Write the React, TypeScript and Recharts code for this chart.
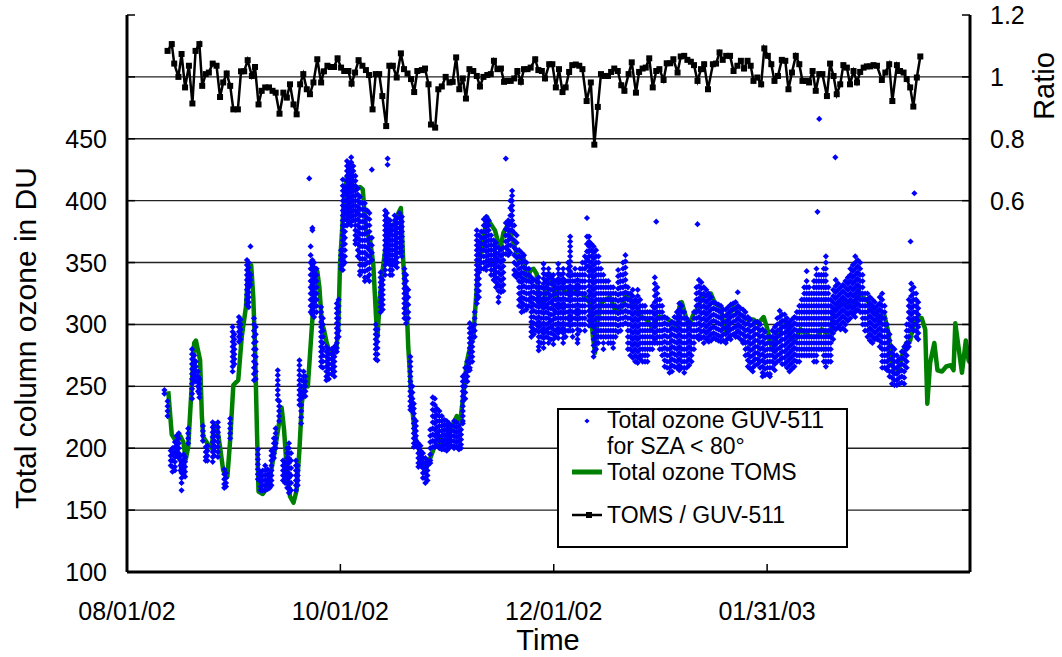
import React from 'react';
import { ComposedChart, Line, Scatter, XAxis, YAxis, ReferenceLine } from 'recharts';

const FONT = '"Liberation Sans", Arial, sans-serif';

// x axis: days since 08/01/02
const xTickDays = [0, 61, 122, 183];
const xTickLabels = ['08/01/02', '10/01/02', '12/01/02', '01/31/03'];
const leftTicks = [100, 150, 200, 250, 300, 350, 400, 450, 500, 550];
const rightTicks = [-0.6, -0.4, -0.2, 0, 0.2, 0.4, 0.6, 0.8, 1, 1.2];
const gridValues = [150, 200, 250, 300, 350, 400, 450, 500];

// TOMS total ozone [day, DU]
const tomsSeries: [number, number][] = [
  [11.8,246],[12.8,211],[13.7,207],[15.2,210],[16.1,205],[16.8,191],[17.5,201],[19.2,285],[19.7,287],[20.9,271],
  [21.4,226],[21.8,209],[23.2,203],[24.2,200],[24.9,220],[25.6,220],[26.6,201],[27.5,182],[28.7,177],[29.5,207],
  [30.4,251],[31.8,255],[32.8,290],[34.0,314],[34.7,345],[35.5,348],[36.1,322],[36.6,282],[37.1,220],[37.6,165],
  [38.8,163],[39.5,166],[40.9,177],[42.3,199],[43.3,217],[44.2,233],[44.9,215],[45.7,182],[46.6,161],[47.6,156],
  [48.5,166],[49.3,199],[50.0,237],[50.9,252],[51.7,250],[52.8,296],[53.8,336],[54.4,343],[55.0,330],[55.7,301],
  [56.3,296],[57.1,285],[58.0,277],[59.0,275],[59.8,279],[60.4,296],[60.9,349],[61.9,395],[62.8,419],[63.6,423],
  [64.7,410],[65.7,409],[66.6,411],[67.4,409],[68.3,376],[69.5,368],[70.4,349],[71.2,306],[71.6,290],[72.3,322],
  [73.3,349],[74.2,368],[75.7,379],[76.6,382],[77.6,390],[78.3,394],[79.0,349],[80.0,312],[80.4,282],[81.4,236],
  [82.4,209],[83.3,201],[84.3,191],[85.2,182],[86.2,188],[87.6,199],[88.6,204],[89.3,209],[90.3,200],[91.4,209],
  [92.4,215],[93.3,220],[94.3,226],[95.2,220],[96.2,244],[97.1,269],[98.1,282],[99.0,290],[99.8,322],[100.5,349],
  [101.7,366],[102.9,387],[103.8,382],[105.2,376],[106.7,360],[107.6,374],[108.6,379],[109.5,374],[110.5,366],[111.9,352],
  [113.3,355],[114.3,336],[115.4,344],[116.2,345],[117.1,341],[117.9,317],[118.9,314],[120.0,331],[120.8,341],[121.4,339],
  [122.4,322],[123.3,328],[124.3,330],[125.7,325],[127.2,330],[128.6,325],[130.0,325],[131.5,320],[132.4,317],[133.2,290],
  [133.8,277],[134.5,301],[135.3,317],[136.7,320],[138.1,322],[139.5,312],[141.0,312],[142.4,322],[143.3,325],[144.3,317],
  [145.8,314],[147.2,306],[148.6,304],[150.0,298],[151.9,306],[153.4,306],[154.8,304],[156.2,301],[157.2,296],[157.9,314],
  [158.6,318],[159.5,309],[160.5,298],[161.9,308],[162.9,312],[164.3,322],[165.8,324],[166.9,325],[168.1,317],[169.6,314],
  [170.5,301],[171.5,293],[172.4,309],[173.4,314],[174.8,309],[176.2,306],[177.7,304],[179.1,304],[180.5,301],[182.0,306],
  [182.9,298],[183.9,287],[184.6,279],[185.8,290],[187.2,298],[188.2,304],[189.6,290],[191.0,287],[192.5,296],[193.9,293],
  [195.3,290],[197.2,290],[198.6,296],[200.1,293],[201.0,290],[202.0,312],[203.4,314],[204.8,320],[206.3,317],[207.7,312],
  [209.1,328],[210.1,322],[211.5,320],[212.9,314],[214.2,310],[215.1,302],[216.3,310],[217.7,293],[218.7,269],[219.6,261],
  [220.6,263],[221.5,274],[222.8,285],[223.9,287],[224.9,301],[226.0,306],[227.2,305],[228.2,296],[228.8,236],[229.6,269],
  [230.8,285],[231.7,263],[233.0,262],[234.2,266],[235.5,267],[236.3,263],[236.8,301],[237.7,282],[238.7,261],[239.8,287],
  [240.6,271],[241.0,269]
];

// GUV-511 measurements for SZA < 80°, grouped by day: [day, DU values]
const guvClusters: [number, number[]][] = [
  [10.7,[247,244]],[11.6,[238,234,230,226]],[12.5,[198,194,190,186]],[13.0,[200,195,190,185,181]],
  [13.7,[205,201,197,193,189,185,182]],[14.2,[210,206,202,198,194]],[14.8,[212,208,204,200,196,192]],
  [15.3,[194,190,186,182]],[15.6,[188,184,180,176,172,166]],[16.2,[195,191,187,183,179]],[16.6,[193,189,185,181,177]],
  [17.5,[216,212,208,204]],[18.6,[280,276,272,268,264,260,256,252,248,244,240]],[19.2,[275,271,267,263,259,255]],
  [19.7,[270,266,262,258,254]],[20.3,[262,258,254,250,246]],[20.7,[256,252,248,244,241]],[21.7,[218,214,210,206]],
  [22.5,[201,197,193,190]],[23.0,[202,198,194,190]],[24.5,[221,217,213,209,205,201,197,193,189]],
  [25.0,[218,214,210,206,202,198,194]],[26.0,[221,217,213,209,205,201,197,193]],[27.8,[183,179,175,171,168]],
  [28.3,[180,176,172,169]],[29.5,[224,220,216,212,208]],[30.2,[298,294,290,286,282,278,274,270,266,262]],
  [30.7,[292,288,284,280,276,272,268]],[32.0,[306,302,298,294,290,286]],[32.5,[304,300,296,292,288]],
  [34.3,[352,348,344,340,336,332,328,324,320,316]],[34.8,[350,346,342,338,334,330,326,322,318,314]],
  [35.3,[363,340,336,332]],[36.3,[305,300,295,290,285,280,275,270,265,260,255]],[36.8,[298,292,286,280,274,268,262,256]],
  [37.4,[199,195,191,187,183,179,175]],[38.2,[181,177,173,169,166]],[38.8,[182,178,174,170,166]],
  [39.5,[186,182,178,174,170,166]],[40.2,[183,179,175,171,167]],[40.8,[180,176,172,168]],
  [41.3,[198,194,190,186,182,178,174,170]],[42.0,[208,204,200,196,192]],[42.5,[216,212,208,204,200]],
  [43.1,[263,259,255,251,247,243,239]],[43.5,[238,234,230,226,222]],[44.6,[190,186,182,178,174]],
  [45.2,[188,184,180,176,172]],[45.8,[200,196,192,188,184,180,176,172,168]],
  [46.3,[204,200,196,192,188,184,180,176,172,168,164]],[46.9,[196,190,184,178,172,166]],
  [48.3,[190,186,182,178,174,170,166]],[48.8,[186,182,178,174,170]],[49.3,[271,267,263,259,255,251,247,243,239,235]],
  [49.8,[255,250,245,240,235,230,225,220]],[50.5,[262,258,254,250,246,242]],[51.0,[258,254,250,246,242]],
  [52.1,[418]],[52.5,[363,356,350,345,340,335,330,325,320,315,310]],
  [53.0,[378,376,352,348,344,340,336,332,328,324,320,316,312,308]],
  [53.5,[350,346,342,338,334,330,326,322,318,314,310,306]],[54.2,[345,340,335,330,325,320,315,310]],
  [55.5,[314,310,306,302,298,294,290,286,282,278,274,270,266]],[56.0,[305,300,295,290,285,280,275,270,265]],
  [57.0,[282,278,274,270,266,262,258,255]],[57.7,[280,276,272,268,264,260,256]],[58.5,[280,276,272,268,264,260]],
  [59.3,[282,278,274,270,266,262,258]],[60.0,[317,313,309,305,301,297,293,289,285,281,278]],
  [60.5,[320,315,310,305,300,295,290]],[61.2,[360,356,352,348,345]],
  [61.7,[417,412,408,404,400,396,392,388,384,380,376,372,368,364,360,356,352,348,344]],
  [62.3,[410,405,400,395,390,385,380,375,370,365,360,355,350]],
  [62.9,[432,428,424,420,416,412,408,404,400,396,392,388,384,380]],
  [63.5,[430,426,422,418,414,410,406,402,398,394,390,386,382]],
  [64.1,[435,431,427,423,419,415,411,407,403,399,395,391,387,383,380]],
  [64.7,[428,424,420,416,412,408,404,400,396,392,388,384]],
  [65.3,[420,416,412,408,404,400,396,392,388,384,380,376,372,368,365]],
  [66.0,[410,405,400,395,390,385,380,375,370,365,360,355]],
  [66.6,[403,398,393,388,383,378,373,368,363,358,353,348,343,340]],
  [67.3,[398,393,388,383,378,373,368,363,358,353,348,343]],
  [68.0,[398,393,388,383,378,373,368,363,358,353,348,343,338,335]],
  [68.7,[392,386,380,374,368,362,356,350,344,338]],[69.3,[390,385,380,375,370,365,360,355,350,345,340,335]],
  [70.0,[425,370,364,358,352]],[71.1,[300,296,292,288,284,280,276,272]],[71.6,[296,291,286,281,276,271]],
  [72.5,[342,338,334,330,326,322,318,314,310]],[73.1,[336,332,328,324,320,316,312]],
  [73.8,[392,388,384,380,376,372,368,364,360,356,352,348,344,340]],[74.3,[390,386,382,378,374,370,366,362,358,354,350]],
  [74.5,[434,429]],[75.2,[384,380,376,372,368,364,360,356,352,348,344,340]],
  [75.8,[380,376,372,368,364,360,356,352,348,344,340]],[76.5,[388,384,380,376,372,368,364,360,356,352,348]],
  [77.2,[386,382,378,374,370,366,362,358,354,350,346]],[77.9,[390,386,382,378,374,370,366,362,358]],
  [78.6,[387,383,379,375,371,367,363,359,355]],[79.3,[345,341,337,333,329,325,321,317,313,309,305]],
  [79.8,[340,335,330,325,320,315,310,305,301]],[80.4,[328,322,316,310,305]],
  [81.0,[274,270,266,262,258,254,250,246,242,238,234,231]],[81.6,[250,245,240,235,230]],
  [82.0,[236,232,228,224,220,216,212,208,204,201]],[82.6,[222,218,214,210,206,202]],[83.3,[204,200,196,192,188,185]],
  [83.9,[202,198,194,190,186]],[84.6,[196,192,188,184,180,176]],[85.3,[192,188,184,180,176,172]],
  [85.9,[190,186,182,178,174]],[86.7,[215,210,205,200,195,190,188]],[87.4,[241,236,231,226,221,216,211,206,201]],
  [88.0,[240,235,230,225,220,215,210,205,201]],[88.6,[232,227,222,217,212,207,202]],
  [89.3,[230,226,222,218,214,210,206,202,200]],[90.0,[226,222,218,214,210,206,202,199]],
  [90.7,[223,219,215,211,207,203,199]],[91.4,[222,218,214,210,206,202,198]],[92.1,[220,216,212,208,204,200]],
  [92.8,[218,214,210,206,202]],[93.5,[222,218,214,210,206,202,200]],[94.2,[221,217,213,209,205,201]],
  [94.9,[218,214,210,206,202,199]],[95.5,[215,211,207,203,200]],[96.0,[258,254,250,246,242,238,234,230,226,222,220]],
  [96.7,[265,260,255,250,245,240]],[97.3,[270,266,262,258,254]],[98.0,[301,297,293,289,285,281,277,273,269,265,263]],
  [98.7,[298,294,290,286,282,278,274,270]],[99.4,[310,305,300,295,290]],
  [100.0,[376,372,368,364,360,356,352,348,344,340,336,332,328,324,320,317]],
  [100.6,[372,367,362,357,352,347,342,337,332,327,322]],[101.3,[375,370,365,360,355,350,345]],
  [102.0,[385,380,375,370,365,360,355,350,345]],[102.7,[387,383,379,375,371,367,363,359,355,351,347,344]],
  [103.4,[384,380,376,372,368,364,360,356,352,348]],[104.1,[372,368,364,360,356,352,348,344,340]],
  [104.8,[368,364,360,356,352,348,344,340,336]],[105.5,[366,362,358,354,350,346,342,338,334,330]],
  [106.2,[362,357,352,347,342,337,332,327,322,318]],[106.9,[360,355,350,345,340,335,330,326]],
  [107.6,[362,357,352,347,342,337,332,327]],[108.3,[434,382,377,372,367,362,357]],
  [109.0,[384,380,376,372,368,364,360,356]],[109.6,[400,394,388,382,376,370,364,358]],
  [110.1,[408,404,400,396,392,388,384,380,376]],[110.7,[380,374,368,362,356,350,344,340]],
  [111.4,[372,366,360,354,348,342,338]],[112.1,[360,355,350,345,340,335,330,325,320,315]],
  [112.8,[358,354,350,346,342,338,334,330,326,322,318,314,310]],[113.5,[356,351,346,341,336,331,326,321,316,311]],
  [114.2,[350,345,340,335,330,325,320,315,312]],[114.9,[345,340,335,330,325,320,315]],
  [115.6,[338,334,330,326,322,318,314,310,306,302,298,294,290]],[116.3,[336,331,326,321,316,311,306,301,296,292]],
  [117.0,[335,330,325,320,315,310,305,300,295]],
  [117.7,[338,334,330,326,322,318,314,310,306,302,298,294,290,286,282,279]],
  [118.4,[330,325,320,315,310,305,300,295,290,285]],
  [119.1,[349,345,341,337,333,329,325,321,317,313,309,305,301,297,293,289,285,281]],
  [119.8,[340,335,330,325,320,315,310,305,300,295,290]],
  [120.5,[345,341,337,333,329,325,321,317,313,309,305,301,297,293,289,285]],
  [121.2,[338,333,328,323,318,313,308,303,298,293,288]],
  [121.9,[340,336,332,328,324,320,316,312,308,304,300,296,292,288,284]],
  [122.6,[335,330,325,320,315,310,305,300,295,290]],
  [123.3,[349,345,341,337,333,329,325,321,317,313,309,305,301,297,293,289]],
  [124.0,[340,335,330,325,320,315,310,305,300,295]],
  [124.7,[345,341,337,333,329,325,321,317,313,309,305,301,297,293,289,285]],
  [125.4,[335,330,325,320,315,310,305,300,295,290]],[126.1,[350,345,340,335,330,325,320,315,310,305,300,295]],
  [126.7,[371,367,363,359,355,351,347,343,339,335,331,327,323,319,315,311,307,303,299,295]],
  [127.4,[340,335,330,325,320,315,310,305,300,295,290]],[128.1,[345,340,335,330,325,320,315,310,305,300]],
  [128.8,[340,336,332,328,324,320,316,312,308,304,300,296,292,288,285]],
  [129.5,[345,340,335,330,325,320,315,310,305,300,295]],[130.2,[350,345,340,335,330,325,320,315,310,305,300]],
  [130.9,[355,350,345,340,335,330,325,320,315,310,305,300,295]],[131.5,[386,371,365,359,353,347]],
  [132.1,[371,367,363,359,355,351,347,343,339,335,331,327,323,319,315,311,307,303,299]],
  [132.8,[365,360,355,350,345,340,335,330,325,320,315,310,305,300]],
  [133.4,[363,358,353,348,343,338,333,328,323,318,313,308,303,298,293,288,283,278,274]],
  [134.1,[360,355,350,345,340,335,330,325,320,315,310,305,300,295,290,285,280]],
  [134.8,[355,350,345,340,335,330,325,320,315,310,305,300,295,290,285]],
  [135.5,[345,340,335,330,325,320,315,310,305,300,295,290]],
  [136.2,[340,335,330,325,320,315,310,305,300,295,290,285,280]],
  [136.9,[335,330,325,320,315,310,305,300,295,290]],[137.6,[335,330,325,320,315,310,305,300,295,290,285]],
  [138.3,[330,325,320,315,310,305,300,295,290,285]],[139.0,[330,325,320,315,310,305,300,295,290,285,281]],
  [139.7,[325,320,315,310,305,300,295,290]],[140.4,[344,339,334,329,324,319,314,309,304,299,294]],
  [141.1,[340,335,330,325,320,315,310,305,300,295]],[141.8,[350,345,340,335,330,325,320,315,310,305,300]],
  [142.5,[356,351,346,341,336,331,326,321,316,311,306,301]],[143.2,[330,325,320,315,310,305,300,295,290,285,280]],
  [143.9,[325,320,315,310,305,300,295,290,285,280,275]],[144.6,[328,323,318,313,308,303,298,293,288,283,278,273]],
  [145.3,[320,315,310,305,300,295,290,285,280,275,270]],
  [146.0,[328,323,318,313,308,303,298,293,288,283,278,273,269]],
  [146.7,[320,315,310,305,300,295,290,285,280,275,272]],[147.4,[315,310,305,300,295,290,285,280,275,270]],
  [148.1,[315,310,305,300,295,290,285,280,275,270]],[148.8,[310,305,300,295,290,285,280,275,270]],
  [149.5,[310,305,300,295,290,285,280]],[150.2,[315,310,305,300,295,290,285,280]],
  [150.9,[338,333,328,323,318,313,308,303,298,293,288,285]],[151.3,[383]],
  [151.6,[330,325,320,315,310,305,300,295,290,285]],[152.3,[320,315,310,305,300,295,290,285,280]],
  [153.0,[315,310,305,300,295,290,285,280,275]],[153.7,[306,301,296,291,286,281,276,271,266]],
  [154.4,[305,300,295,290,285,280,275,270,265]],[155.1,[300,295,290,285,280,275,270,265,261]],
  [155.8,[302,297,292,287,282,277,272,267,262]],[156.5,[306,301,296,291,286,281,276,271,266]],
  [157.2,[310,305,300,295,290,285,280,275,270,265]],[157.9,[317,312,307,302,297,292,287,282,277,272,267,263]],
  [158.6,[315,310,305,300,295,290,285,280,275,270,265]],[159.3,[310,305,300,295,290,285,280,275,270,265,261]],
  [160.0,[305,300,295,290,285,280,275,270,265]],[160.7,[302,297,292,287,282,277,272,267]],
  [161.4,[300,295,290,285,280,275,270]],[162.1,[310,305,300,295,290,285,280]],
  [162.8,[330,325,320,315,310,305,300,295,290]],[163.1,[381]],[163.5,[336,331,326,321,316,311,306,301,296,291,288]],
  [164.2,[334,329,324,319,314,309,304,299,294,289]],[164.9,[330,325,320,315,310,305,300,295,290,285]],
  [165.6,[328,323,318,313,308,303,298,293,288]],[166.3,[325,320,315,310,305,300,295,290,286]],
  [167.0,[322,317,312,307,302,297,292,287]],[167.7,[318,313,308,303,298,293,289]],
  [168.4,[317,312,307,302,297,292,288]],[169.1,[316,311,306,301,296,291,287]],[169.8,[315,310,305,300,295,290,286]],
  [170.5,[312,307,302,297,292,287]],[171.2,[312,307,302,297,292,287,285]],[171.9,[314,309,304,299,294,289]],
  [172.6,[316,311,306,301,296,291,288]],[173.3,[317,312,307,302,297,292]],[174.0,[318,313,308,303,298,293,290]],
  [174.6,[326]],[174.7,[315,310,305,300,295,290]],[175.4,[313,308,303,298,293,288]],
  [176.1,[312,307,302,297,292,287,285]],[176.8,[310,305,300,295,290,285,280,275]],
  [177.5,[306,301,296,291,286,281,276,271,266]],[178.2,[304,299,294,289,284,279,274,269,264]],
  [178.9,[300,295,290,285,280,275,270,265,262]],[179.6,[302,297,292,287,282,277,272,267]],
  [180.3,[302,297,292,287,282,277,272,268]],[181.0,[300,295,290,285,280,275,270,265]],
  [181.7,[296,291,286,281,276,271,266,261,258]],[182.4,[294,289,284,279,274,269,264,259]],
  [183.1,[290,285,280,275,270,265,260]],[183.8,[290,285,280,275,270,265,260,258]],
  [184.5,[295,290,285,280,275,270,265]],[185.2,[298,293,288,283,278,273,268,263]],
  [185.9,[305,300,295,290,285,280,275,270]],[186.6,[311,306,301,296,291,286,281,276,271]],
  [187.3,[308,303,298,293,288,283,278,273,268]],[188.0,[308,303,298,293,288,283,278,273,268]],
  [188.7,[305,300,295,290,285,280,275,270,265]],[189.4,[302,297,292,287,282,277,272,267,262]],
  [190.1,[304,299,294,289,284,279,274,269,264]],[190.8,[306,301,296,291,286,281,276,271,266]],
  [191.5,[310,305,300,295,290,285,280,275,270]],[192.2,[315,310,305,300,295,290,285,280,275,270]],
  [192.9,[320,315,310,305,300,295,290,285,280,275]],[193.6,[330,325,320,315,310,305,300,295,290,285,280,275]],
  [194.3,[343,335,330,325,320,315,310,305,300,295,290,285,280,275]],
  [195.0,[330,325,320,315,310,305,300,295,290,285,280,275]],
  [195.7,[325,320,315,310,305,300,295,290,285,280,275]],
  [196.4,[335,330,325,320,315,310,305,300,295,290,285,280,275,270]],
  [197.1,[345,340,335,330,325,320,315,310,305,300,295,290,285,280,275,270]],[197.4,[391]],[197.9,[466]],
  [197.8,[340,335,330,325,320,315,310,305,300,295,290,285,280]],
  [198.5,[340,335,330,325,320,315,310,305,300,295,290,285,280]],
  [199.2,[345,340,335,330,325,320,315,310,305,300,295,290,285,280,275,270]],
  [199.8,[355,350,345,340,335,330,325,320,315,310,305,300,295,290,285,280,275,270,266]],
  [200.5,[330,325,320,315,310,305,300,295,290,285,280,275,270]],
  [201.2,[320,315,310,305,300,295,290,285,280,275,270]],[201.9,[328,323,318,313,308,303,298,293,288]],
  [202.5,[435]],[202.6,[336,331,326,321,316,311,306,301,296]],[203.3,[333,328,323,318,313,308,303,298]],
  [204.0,[330,325,320,315,310,305,300,296]],[204.7,[332,327,322,317,312,307,302,297]],
  [205.4,[335,330,325,320,315,310,305,300,295]],[206.1,[338,333,328,323,318,313,308,303]],
  [206.8,[345,340,335,330,325,320,315,310,305]],[207.5,[348,343,338,333,328,323,318,313,308]],
  [208.2,[355,350,345,340,335,330,325,320,315,310,306]],[208.9,[352,347,342,337,332,327,322,317,312]],
  [209.6,[350,345,340,335,330,325,320,315,310]],[210.3,[340,335,330,325,320,315,310,305,300]],
  [211.0,[325,320,315,310,305,300,295]],[211.7,[325,320,315,310,305,300,295,290]],
  [212.4,[322,317,312,307,302,297,292,287]],[213.1,[320,315,310,305,300,295,290,285]],
  [213.8,[318,313,308,303,298,293,288]],[214.5,[315,310,305,300,295,290,288]],
  [215.2,[322,317,312,307,302,297,292,287,282]],[215.9,[325,320,315,310,305,300,295,290,285,280,275,270,265]],
  [216.6,[315,310,305,300,295,290,285,280,275,270,265]],[217.3,[300,295,290,285,280,275,270,265,263]],
  [218.0,[292,287,282,277,272,267,262,258]],[218.7,[282,277,272,267,262,257,252]],
  [219.4,[280,275,270,265,260,255,251]],[220.1,[275,270,265,260,255,251]],[220.8,[272,267,262,257,252]],
  [221.5,[278,273,268,263,258,253]],[222.2,[282,277,272,267,262,257,252]],
  [222.9,[300,295,290,285,280,275,270,265]],[223.5,[320,315,310,305,300,295,290,285,282]],[224.0,[367]],
  [224.2,[333,328,323,318,313,308,303,298]],[224.9,[330,325,320,315,310,305,300,295]],[225.1,[406]],
  [225.6,[325,320,315,310,305,300,295,290]],[226.2,[318,313,308,303,298,293,288]]
];

// TOMS / GUV-511 ratio [day, ratio]
const ratioSeries: [number, number][] = [
  [11.6,1.084],[12.8,1.106],[13.5,1.043],[14.7,1.0],[15.6,1.074],[16.6,0.966],[17.7,1.036],[18.7,0.914],[19.6,1.084],[20.7,1.106],
  [21.5,0.971],[22.5,1.009],[23.4,1.014],[24.5,1.043],[25.6,1.036],[26.6,0.935],[27.5,0.982],[28.5,1.011],[29.5,0.971],[30.4,0.895],
  [31.7,0.895],[32.6,1.018],[33.5,1.018],[34.5,1.054],[35.7,1.003],[36.6,1.032],[37.6,0.911],[38.5,0.955],[39.5,0.966],[40.6,0.966],
  [41.6,0.955],[42.5,0.949],[43.6,0.881],[44.7,0.949],[45.7,0.933],[46.6,0.976],[47.6,0.911],[48.5,0.879],[49.5,0.976],[50.4,1.009],
  [51.4,0.96],[52.3,0.944],[53.3,0.982],[54.4,1.057],[55.5,0.982],[56.3,1.018],[57.3,1.036],[58.2,1.032],[59.2,1.032],[60.2,1.06],
  [61.2,1.03],[62.1,1.019],[63.3,1.019],[64.2,0.978],[65.2,1.014],[66.2,1.054],[67.3,1.036],[68.3,1.022],[69.2,1.006],[70.2,0.895],
  [71.1,1.009],[72.1,1.009],[73.0,0.938],[74.1,0.841],[75.0,1.036],[76.0,1.036],[77.1,0.998],[78.3,1.076],[79.2,1.025],[80.2,1.011],
  [81.2,0.993],[82.1,0.951],[83.0,1.019],[84.3,1.022],[85.2,1.027],[86.2,0.976],[86.9,0.846],[88.1,0.836],[89.0,0.96],[90.0,0.969],
  [91.1,1.0],[92.2,0.982],[93.1,0.984],[94.1,1.063],[95.0,0.96],[96.0,0.995],[96.9,0.93],[97.9,1.025],[99.0,1.019],[100.0,1.003],
  [100.9,0.969],[101.9,1.0],[103.0,1.006],[104.0,1.009],[104.9,1.052],[105.9,1.025],[106.9,1.027],[107.8,0.984],[108.7,0.987],[109.7,0.987],
  [110.7,0.995],[111.6,1.019],[112.6,0.984],[113.5,1.025],[114.5,1.025],[115.4,1.03],[116.7,1.057],[117.6,1.022],[118.6,1.019],[119.5,0.995],
  [120.7,1.041],[121.6,1.041],[122.6,0.966],[123.5,1.025],[124.5,0.951],[125.4,0.966],[126.4,1.016],[127.3,1.038],[128.3,1.04],[129.3,1.036],
  [130.2,1.025],[131.4,0.922],[132.6,0.982],[133.6,0.781],[134.6,0.903],[135.5,1.009],[136.5,1.003],[137.5,1.003],[138.4,1.016],[139.3,1.027],
  [140.3,1.019],[141.3,0.973],[142.2,0.955],[143.4,1.009],[144.3,1.047],[145.5,0.949],[146.4,1.016],[147.4,1.027],[148.3,1.03],[149.3,1.06],
  [150.3,0.966],[151.3,1.019],[152.2,1.025],[153.4,0.99],[154.3,1.044],[155.3,1.044],[156.2,1.057],[157.4,1.014],[158.3,1.066],[159.3,1.068],
  [160.2,1.055],[161.2,1.049],[162.1,1.038],[163.1,0.987],[164.1,1.025],[165.0,1.041],[166.1,0.96],[167.5,1.041],[168.4,1.043],[169.4,1.079],
  [170.3,1.055],[171.3,1.068],[172.4,1.068],[173.4,1.019],[174.5,1.036],[175.5,1.052],[176.4,1.027],[177.4,1.052],[178.3,1.036],[179.1,0.987],
  [180.2,0.998],[181.3,0.976],[182.2,1.092],[183.2,1.068],[184.2,1.041],[185.1,0.987],[186.1,1.003],[187.2,1.055],[188.2,1.052],[189.1,0.96],
  [190.1,1.014],[191.2,1.068],[192.2,1.041],[193.1,0.987],[194.1,0.987],[195.0,0.982],[196.0,1.019],[196.9,0.955],[197.9,1.009],[198.8,1.009],
  [200.1,0.938],[201.0,1.043],[202.0,1.003],[202.9,0.944],[203.9,0.976],[204.8,1.038],[205.8,1.03],[206.7,0.976],[207.7,1.019],[208.7,0.982],
  [209.6,1.016],[210.6,1.03],[211.5,1.034],[212.5,1.034],[213.4,1.038],[214.4,1.036],[215.8,0.99],[216.8,1.014],[217.9,1.041],[218.8,0.922],
  [220.1,1.038],[221.0,1.019],[222.0,1.014],[222.9,0.993],[223.9,0.966],[224.8,0.904],[225.8,0.998],[226.8,1.066]
];

const tomsData = tomsSeries.map(([day, du]) => ({ day, du }));
const guvData = guvClusters.flatMap(([day, vals]) => vals.map((du) => ({ day, du })));
const ratioData = ratioSeries.map(([day, r]) => ({ day, r }));

const BLUE = '#0000ff';
const GREEN = '#008000';
const TICK_FS = 25;

const LeftTick = (props: any) => {
  const { x, y, payload } = props;
  if (payload.value > 450) return <g />;
  return (
    <text x={x} y={y} dy="0.36em" textAnchor="end" fontSize={TICK_FS} fontFamily={FONT} fill="#000">
      {payload.value}
    </text>
  );
};

const RightTick = (props: any) => {
  const { x, y, payload } = props;
  if (payload.value < 0.55) return <g />;
  const v = Math.round(payload.value * 10) / 10;
  return (
    <text x={x} y={y} dy="0.36em" textAnchor="start" fontSize={TICK_FS} fontFamily={FONT} fill="#000">
      {String(v)}
    </text>
  );
};

const BottomTick = (props: any) => {
  const { x, y, payload } = props;
  const i = xTickDays.indexOf(payload.value);
  return (
    <text x={x} y={y} dy="0.71em" textAnchor="middle" fontSize={TICK_FS} fontFamily={FONT} fill="#000">
      {i >= 0 ? xTickLabels[i] : ''}
    </text>
  );
};

const GuvDot = (props: any) => {
  const { cx, cy } = props;
  if (cx == null || cy == null) return <g />;
  const s = 3.1;
  return <path d={`M${cx},${cy - s}L${cx + s},${cy}L${cx},${cy + s}L${cx - s},${cy}Z`} fill={BLUE} />;
};

const RatioDot = (props: any) => {
  const { cx, cy, index } = props;
  if (cx == null || cy == null) return <g key={index} />;
  return <rect key={index} x={cx - 3} y={cy - 3} width={6} height={6} fill="#000" />;
};

export default function App() {
  return (
    <div style={{ position: 'absolute', left: 0, top: 0, width: 1062, height: 657, background: '#fff' }}>
      <ComposedChart width={1062} height={657} margin={{ top: 15, right: 0, bottom: 0, left: 0 }}>
        <XAxis
          xAxisId="x"
          dataKey="day"
          type="number"
          domain={[0, 241]}
          ticks={xTickDays}
          interval={0}
          allowDataOverflow
          height={85}
          tickSize={-8}
          tickMargin={38}
          tick={<BottomTick />}
          axisLine={{ stroke: '#000', strokeWidth: 3 }}
          tickLine={{ stroke: '#000', strokeWidth: 1.5 }}
        />
        <YAxis
          yAxisId="left"
          type="number"
          domain={[100, 550]}
          ticks={leftTicks}
          interval={0}
          allowDataOverflow
          width={127}
          tickSize={-8}
          tickMargin={28}
          tick={<LeftTick />}
          axisLine={{ stroke: '#000', strokeWidth: 3 }}
          tickLine={{ stroke: '#000', strokeWidth: 1.5 }}
        />
        <YAxis
          yAxisId="right"
          orientation="right"
          type="number"
          domain={[-0.6, 1.2]}
          ticks={rightTicks}
          interval={0}
          allowDataOverflow
          width={92}
          tickSize={-8}
          tickMargin={28}
          tick={<RightTick />}
          axisLine={{ stroke: '#000', strokeWidth: 3 }}
          tickLine={{ stroke: '#000', strokeWidth: 1.5 }}
        />
        {gridValues.map((v) => (
          <ReferenceLine key={v} xAxisId="x" yAxisId="left" y={v} stroke="#222" strokeWidth={1.4} />
        ))}
        <Scatter
          xAxisId="x"
          yAxisId="left"
          data={guvData}
          dataKey="du"
          fill={BLUE}
          shape={<GuvDot />}
          isAnimationActive={false}
          name="Total ozone GUV-511 for SZA < 80°"
        />
        <Line
          xAxisId="x"
          yAxisId="left"
          data={tomsData}
          dataKey="du"
          type="linear"
          stroke={GREEN}
          strokeWidth={4.5}
          strokeLinejoin="round"
          dot={false}
          activeDot={false}
          isAnimationActive={false}
          name="Total ozone TOMS"
        />
        <Line
          xAxisId="x"
          yAxisId="right"
          data={ratioData}
          dataKey="r"
          type="linear"
          stroke="#000"
          strokeWidth={2.5}
          dot={RatioDot}
          activeDot={false}
          isAnimationActive={false}
          name="TOMS / GUV-511"
        />
      </ComposedChart>
      <svg
        width={1062}
        height={657}
        style={{ position: 'absolute', left: 0, top: 0, pointerEvents: 'none' }}
        fontFamily={FONT}
      >
        <text transform="translate(36,338) rotate(-90)" textAnchor="middle" fontSize={30} fill="#000">
          Total column ozone in DU
        </text>
        <text x={548} y={650} textAnchor="middle" fontSize={29} fill="#000">
          Time
        </text>
        <text transform="translate(1054,86) rotate(-90)" textAnchor="middle" fontSize={29} fill="#000">
          Ratio
        </text>
        <g>
          <rect x={558} y={409} width={289} height={138} fill="#fff" stroke="#000" strokeWidth={2} />
          <path d="M587,418.4L589.6,421L587,423.6L584.4,421Z" fill={BLUE} />
          <text x={607} y={428} fontSize={23} fill="#000">Total ozone GUV-511</text>
          <text x={607} y={454} fontSize={23} fill="#000">for SZA &lt; 80°</text>
          <line x1={572} y1={472} x2={602} y2={472} stroke={GREEN} strokeWidth={5} />
          <text x={607} y={480} fontSize={23} fill="#000">Total ozone TOMS</text>
          <line x1={572} y1={515} x2={602} y2={515} stroke="#000" strokeWidth={2.5} />
          <rect x={586} y={512} width={6} height={6} fill="#000" />
          <text x={607} y={523} fontSize={23} fill="#000">TOMS / GUV-511</text>
        </g>
      </svg>
    </div>
  );
}
